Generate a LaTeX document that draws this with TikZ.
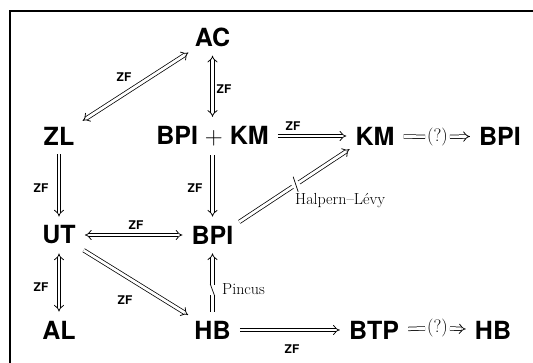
\documentclass[tikz,border=0pt]{standalone}
\usepackage{fontspec}
\newfontfamily\heros{TeX Gyre Heros}
\usetikzlibrary{arrows.meta,calc}
\tikzset{
  prop/.style={font=\heros\bfseries\fontsize{25}{25}\selectfont, inner sep=0pt},
  dbl/.style={double, double distance=2.8pt, line width=0.75pt},
  imp/.style={dbl, -{Implies[scale=1.9]}, shorten >=9pt, shorten <=9pt},
  biimp/.style={imp, {Implies[scale=1.9]}-{Implies[scale=1.9]}},
  zf/.style={font=\heros\bfseries\fontsize{12}{12}\selectfont, inner sep=0pt},
  note/.style={font=\fontsize{16}{16}\selectfont, inner sep=0pt},
  qmark/.style={font=\fontsize{18}{18}\selectfont, inner sep=1pt},
  slash/.style={line width=0.7pt},
  slashgap/.style={white, line width=6pt},
}
\begin{document}
\begin{tikzpicture}[x=1pt, y=-1pt]
\useasboundingbox (0,0) rectangle (533,363);
% frame
\draw[line width=1.2pt] (10,363) |- (533,11);

% propositions
\node[prop] (AC)   at (212.5,37)  {AC};
\node[prop] (ZL)   at (59,136)    {ZL};
\node[prop] (BK)   at (212.5,136) {BPI $+$ KM};
\node[prop] (KM)   at (375,136)   {KM};
\node[prop] (BPIr) at (500,136)   {BPI};
\node[prop] (UT)   at (59,235)    {UT};
\node[prop] (BPI)  at (212.5,235) {BPI};
\node[prop] (AL)   at (59,330)    {AL};
\node[prop] (HB)   at (212.5,330) {HB};
\node[prop] (BTP)  at (374,330)   {BTP};
\node[prop] (HBr)  at (493,330)   {HB};

% open questions
\node[qmark] (q1) at (437.5,137) {(?)};
\node[qmark] (q2) at (437.5,328) {(?)};

% implications
\draw[biimp, shorten <=11pt, shorten >=11pt] (ZL) -- (AC);
\draw[biimp] (AC) -- (BK);
\draw[imp] (BK) -- (KM);
\draw[dbl, shorten <=9pt, shorten >=1pt] (KM) -- (q1);
\draw[imp, shorten <=1pt] (q1) -- (BPIr);
\draw[imp] (ZL) -- (UT);
\draw[imp] (BK) -- (BPI);
\draw[biimp] (UT) -- (BPI);
\draw[biimp] (UT) -- (AL);
\draw[imp, shorten <=11pt, shorten >=11pt] (UT) -- (HB);
\draw[imp] (HB) -- (BTP);
\draw[dbl, shorten <=9pt, shorten >=1pt] (BTP) -- (q2);
\draw[imp, shorten <=1pt] (q2) -- (HBr);

% non-implications: arrow broken by a slash
\draw[imp, shorten <=7pt, shorten >=7pt] (BPI.north east)
  -- coordinate[pos=0.485] (hla) coordinate[pos=0.51] (hl) coordinate[pos=0.535] (hlb) (KM.south west);
\draw[slashgap] (hla) -- (hlb);
\draw[slash] ($(hl)+(-2.5,-8)$) -- ($(hl)+(2.5,7)$);
\draw[imp] (HB) -- coordinate[pos=0.33] (pca) coordinate[pos=0.4] (pc) coordinate[pos=0.47] (pcb) (BPI);
\draw[slashgap] (pca) -- (pcb);
\draw[slash] ($(pc)+(-2.2,-6)$) -- ($(pc)+(2.2,6)$);

% labels
\node[zf] (z1) at (124,77)  {ZF};
\node[zf] (z2) at (224,89)  {ZF};
\node[zf] (z3) at (293,126) {ZF};
\node[zf] (z4) at (41,188)  {ZF};
\node[zf] (z5) at (195,188) {ZF};
\node[zf] (z6) at (136,225) {ZF};
\node[zf] (z7) at (41,287)  {ZF};
\node[zf] (z8) at (125,300) {ZF};
\node[zf] (z9) at (292,349) {ZF};
\node[note, anchor=west] (hlv) at (295,201) {Halpern–Lévy};
\node[note, anchor=west] (pin) at (222,289) {Pincus};
\end{tikzpicture}
\end{document}
